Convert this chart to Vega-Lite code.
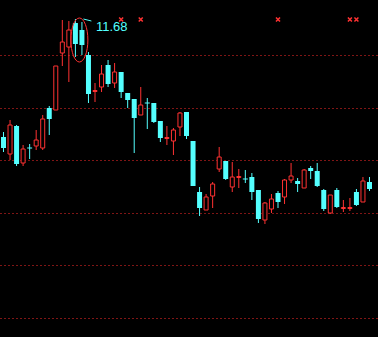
{
  "$schema": "https://vega.github.io/schema/vega-lite/v6.json",
  "width": 378,
  "height": 337,
  "autosize": {"type": "fit", "contains": "padding"},
  "padding": 0,
  "background": "#000000",
  "config": {"view": {"stroke": null}},
  "datasets": {
    "candles": [
      {"i":1,"open":9.32,"close":9.10,"high":9.42,"low":9.02},
      {"i":2,"open":8.98,"close":9.56,"high":9.66,"low":8.86},
      {"i":3,"open":9.54,"close":8.78,"high":9.56,"low":8.74},
      {"i":4,"open":8.80,"close":9.08,"high":9.16,"low":8.74},
      {"i":5,"open":9.11,"close":9.09,"high":9.18,"low":8.88},
      {"i":6,"open":9.14,"close":9.26,"high":9.46,"low":9.06},
      {"i":7,"open":9.10,"close":9.68,"high":9.76,"low":9.06},
      {"i":8,"open":9.90,"close":9.68,"high":9.94,"low":9.36},
      {"i":9,"open":9.86,"close":10.74,"high":10.74,"low":9.86},
      {"i":10,"open":11.00,"close":11.22,"high":11.66,"low":10.74},
      {"i":11,"open":11.12,"close":11.46,"high":11.64,"low":10.42},
      {"i":12,"open":11.60,"close":11.18,"high":11.68,"low":10.92},
      {"i":13,"open":11.46,"close":11.16,"high":11.62,"low":10.96},
      {"i":14,"open":10.96,"close":10.18,"high":11.02,"low":10.00},
      {"i":15,"open":10.23,"close":10.25,"high":10.40,"low":10.02},
      {"i":16,"open":10.32,"close":10.58,"high":10.76,"low":10.22},
      {"i":17,"open":10.76,"close":10.38,"high":10.86,"low":10.32},
      {"i":18,"open":10.40,"close":10.62,"high":10.80,"low":10.30},
      {"i":19,"open":10.62,"close":10.22,"high":10.62,"low":10.10},
      {"i":20,"open":10.20,"close":10.06,"high":10.20,"low":9.90},
      {"i":21,"open":10.08,"close":9.70,"high":10.08,"low":9.00},
      {"i":22,"open":9.76,"close":9.96,"high":10.32,"low":9.76},
      {"i":23,"open":10.01,"close":9.99,"high":10.10,"low":9.48},
      {"i":24,"open":10.00,"close":9.62,"high":10.00,"low":9.60},
      {"i":25,"open":9.64,"close":9.30,"high":9.64,"low":9.22},
      {"i":26,"open":9.29,"close":9.31,"high":9.54,"low":9.16},
      {"i":27,"open":9.24,"close":9.46,"high":9.50,"low":8.96},
      {"i":28,"open":9.52,"close":9.80,"high":9.82,"low":9.34},
      {"i":29,"open":9.82,"close":9.34,"high":9.82,"low":9.28},
      {"i":30,"open":9.24,"close":8.34,"high":9.24,"low":8.34},
      {"i":31,"open":8.22,"close":7.90,"high":8.32,"low":7.74},
      {"i":32,"open":7.86,"close":8.12,"high":8.18,"low":7.86},
      {"i":33,"open":8.14,"close":8.38,"high":8.42,"low":7.90},
      {"i":34,"open":8.68,"close":8.92,"high":9.12,"low":8.62},
      {"i":35,"open":8.84,"close":8.48,"high":8.84,"low":8.46},
      {"i":36,"open":8.32,"close":8.52,"high":8.82,"low":8.22},
      {"i":37,"open":8.51,"close":8.53,"high":8.68,"low":8.30},
      {"i":38,"open":8.49,"close":8.47,"high":8.66,"low":8.40},
      {"i":39,"open":8.52,"close":8.22,"high":8.60,"low":8.06},
      {"i":40,"open":8.26,"close":7.68,"high":8.26,"low":7.60},
      {"i":41,"open":7.66,"close":8.00,"high":8.02,"low":7.58},
      {"i":42,"open":7.88,"close":8.08,"high":8.18,"low":7.80},
      {"i":43,"open":8.20,"close":8.02,"high":8.24,"low":7.90},
      {"i":44,"open":8.12,"close":8.46,"high":8.48,"low":7.98},
      {"i":45,"open":8.46,"close":8.54,"high":8.80,"low":8.40},
      {"i":46,"open":8.44,"close":8.38,"high":8.50,"low":8.22},
      {"i":47,"open":8.30,"close":8.66,"high":8.68,"low":8.30},
      {"i":48,"open":8.70,"close":8.64,"high":8.74,"low":8.48},
      {"i":49,"open":8.64,"close":8.34,"high":8.80,"low":8.32},
      {"i":50,"open":8.26,"close":7.88,"high":8.28,"low":7.84},
      {"i":51,"open":7.80,"close":8.16,"high":8.16,"low":7.78},
      {"i":52,"open":8.26,"close":7.92,"high":8.30,"low":7.90},
      {"i":53,"open":7.89,"close":7.91,"high":8.06,"low":7.82},
      {"i":54,"open":7.89,"close":7.91,"high":8.10,"low":7.84},
      {"i":55,"open":8.22,"close":7.96,"high":8.28,"low":7.94},
      {"i":56,"open":8.02,"close":8.44,"high":8.52,"low":8.02},
      {"i":57,"open":8.42,"close":8.28,"high":8.52,"low":8.24}
    ],
    "signals": [
      {"i":19,"v":11.67},
      {"i":22,"v":11.67},
      {"i":43,"v":11.67},
      {"i":54,"v":11.67},
      {"i":55,"v":11.67}
    ],
    "peak": [
      {"i":12,"high":11.68,"label":"11.68"}
    ]
  },
  "layer": [
    {
      "data": {"name": "candles"},
      "mark": {"type": "rule", "strokeWidth": 1},
      "encoding": {
        "x": {"field": "i", "type": "quantitative", "scale": {"domain": [0.4645, 58.3], "nice": false, "zero": false, "padding": 0}, "axis": null},
        "y": {"field": "low", "type": "quantitative", "scale": {"domain": [5.32, 12.06], "nice": false, "zero": false, "padding": 0},
          "axis": {"values": [10.96, 9.91, 8.86, 7.81, 6.76, 5.71], "grid": true, "gridColor": "#ff2a2a", "gridDash": [1, 3], "gridWidth": 1, "gridOpacity": 1, "labels": false, "ticks": false, "domain": false, "title": null}},
        "y2": {"field": "high"},
        "color": {"condition": {"test": "datum.close >= datum.open", "value": "#ff3232"}, "value": "#54ffff"}
      }
    },
    {
      "data": {"name": "candles"},
      "transform": [{"filter": "datum.close >= datum.open"}],
      "mark": {"type": "bar", "width": 4, "fill": "#000000", "stroke": "#ff3232", "strokeWidth": 1},
      "encoding": {
        "x": {"field": "i", "type": "quantitative"},
        "y": {"field": "open", "type": "quantitative"},
        "y2": {"field": "close"}
      }
    },
    {
      "data": {"name": "candles"},
      "transform": [{"filter": "datum.close < datum.open"}],
      "mark": {"type": "bar", "width": 5, "fill": "#54ffff", "stroke": null},
      "encoding": {
        "x": {"field": "i", "type": "quantitative"},
        "y": {"field": "open", "type": "quantitative"},
        "y2": {"field": "close"}
      }
    },
    {
      "data": {"name": "signals"},
      "mark": {"type": "point", "shape": "M-1,-1L1,1M1,-1L-1,1", "size": 16, "filled": false, "stroke": "#ff3232", "strokeWidth": 1.5, "opacity": 1},
      "encoding": {
        "x": {"field": "i", "type": "quantitative"},
        "y": {"field": "v", "type": "quantitative"}
      }
    },
    {
      "data": {"name": "peak"},
      "mark": {"type": "point", "shape": "M-0.386,0A0.386,1,0,1,0,0.386,0A0.386,1,0,1,0,-0.386,0Z", "size": 1936, "filled": false, "stroke": "#ff3232", "strokeWidth": 1, "opacity": 1, "xOffset": 4, "yOffset": 21},
      "encoding": {
        "x": {"field": "i", "type": "quantitative"},
        "y": {"field": "high", "type": "quantitative"}
      }
    },
    {
      "data": {"name": "peak"},
      "mark": {"type": "rule", "stroke": "#54ffff", "strokeWidth": 1, "xOffset": 8, "x2Offset": 16, "y2Offset": 2},
      "encoding": {
        "x": {"field": "i", "type": "quantitative"},
        "x2": {"field": "i"},
        "y": {"field": "high", "type": "quantitative"},
        "y2": {"field": "high"}
      }
    },
    {
      "data": {"name": "peak"},
      "mark": {"type": "text", "align": "left", "baseline": "alphabetic", "dx": 20.6, "dy": 12, "font": "Liberation Sans", "fontSize": 13, "fill": "#54ffff"},
      "encoding": {
        "x": {"field": "i", "type": "quantitative"},
        "y": {"field": "high", "type": "quantitative"},
        "text": {"field": "label"}
      }
    }
  ]
}
